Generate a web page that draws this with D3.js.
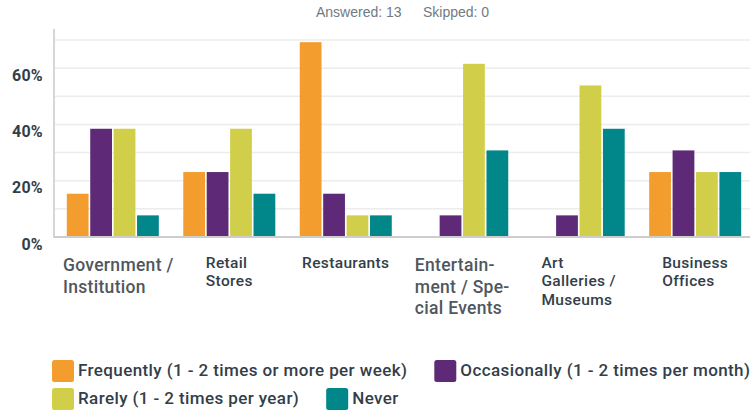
<!DOCTYPE html>
<html><head><meta charset="utf-8">
<script src="https://cdn.jsdelivr.net/npm/d3@7"></script>
<style>
html,body{margin:0;padding:0;background:#fff;}
svg{display:block;}
</style></head>
<body>
<svg id="chart" width="750" height="412"></svg>
<script>
// ---- data ----
const categories = ["Government / Institution","Retail Stores","Restaurants","Entertainment / Special Events","Art Galleries / Museums","Business Offices"];
const categoryLines = [["Government /","Institution"],["Retail","Stores"],["Restaurants"],["Entertain-","ment / Spe-","cial Events"],["Art","Galleries /","Museums"],["Business","Offices"]];
const seriesNames = ["Frequently (1 - 2 times or more per week)","Occasionally (1 - 2 times per month)","Rarely (1 - 2 times per year)","Never"];
const frequently   = [15.38, 23.08, 69.23, 0,     0,     23.08];
const occasionally = [38.46, 23.08, 15.38, 7.69,  7.69,  30.77];
const rarely       = [38.46, 38.46, 7.69,  61.54, 53.85, 23.08];
const never        = [7.69,  15.38, 7.69,  30.77, 38.46, 23.08];
const yTicks = [0, 20, 40, 60];
const gridTicks = [10, 20, 30, 40, 50, 60, 70];
const answered = 13, skipped = 0;

// ---- style ----
const colors = ["#f29d2e","#5e2a78","#d1cf4a","#01868a"];
const darkText = "#333e48";
const altLabels = new Set(["Government / Institution","Entertainment / Special Events"]);

const series = [frequently, occasionally, rarely, never];
const svg = d3.select("#chart");

const y = d3.scaleLinear().domain([0, 70]).range([237, 40]);
const x0 = d3.scaleBand().domain(categories).range([54, 754]).paddingInner(0.21).paddingOuter(0.11);
const x1 = d3.scaleBand().domain(d3.range(series.length)).range([0, x0.bandwidth()]).paddingInner(0.07);

// header
const hdr = svg.append("g").attr("font-family","'Liberation Sans', Arial, sans-serif").attr("font-size",14).attr("fill","#6f7b83");
hdr.append("text").attr("x",316).attr("y",17).text("Answered: " + answered);
hdr.append("text").attr("x",423).attr("y",17).text("Skipped: " + skipped);

// gridlines
svg.append("g").selectAll("line").data(gridTicks).join("line")
  .attr("x1",54).attr("x2",750).attr("y1",d=>y(d)).attr("y2",d=>y(d))
  .attr("stroke","#ececec").attr("stroke-width",1.5);

// y axis
const yAxis = svg.append("g").attr("transform","translate(54,0)")
  .call(d3.axisLeft(y).tickValues(yTicks).tickFormat(d=>d+"%").tickSize(0).tickPadding(11));
yAxis.select(".domain").remove();
yAxis.selectAll("text").attr("dy","0.75em").attr("font-family","Roboto, sans-serif")
  .attr("font-weight",700).attr("font-size",16).attr("fill",darkText).attr("letter-spacing",0.3);
svg.append("line").attr("x1",54).attr("x2",54).attr("y1",29).attr("y2",238)
  .attr("stroke","#d6d6d6").attr("stroke-width",2);

// bars
const groups = svg.append("g").selectAll("g").data(categories).join("g")
  .attr("transform",d=>`translate(${x0(d)},0)`);
groups.selectAll("rect").data((d,i)=>series.map((s,k)=>({k, v:s[i]}))).join("rect")
  .attr("x",d=>x1(d.k)).attr("width",x1.bandwidth())
  .attr("y",d=>y(d.v)).attr("height",d=>y(0)-y(d.v))
  .attr("fill",d=>colors[d.k]);

// baseline
svg.append("line").attr("x1",54).attr("x2",750).attr("y1",y(0)).attr("y2",y(0))
  .attr("stroke","#cdcdcd").attr("stroke-width",2);

// x labels
categories.forEach((c,i)=>{
  const alt = altLabels.has(c);
  const t = svg.append("text")
    .attr("font-family", "Roboto, sans-serif")
    .attr("font-weight", 500)
    .attr("font-size", alt ? 17.5 : 15.5)
    .attr("letter-spacing", alt ? 0.3 : 0.35)
    .attr("fill", alt ? "#50575e" : darkText);
  const lh = alt ? 21.5 : 18.5;
  const base = alt ? 271 : 267.5;
  categoryLines[i].forEach((ln,j)=>{
    t.append("tspan").attr("y", base + j*lh).text(ln);
  });
  let w = 0;
  t.selectAll("tspan").each(function(){ w = Math.max(w, this.getComputedTextLength()); });
  const cx = x0(c) + x0.bandwidth()/2;
  const left = Math.max(63, cx - w/2);
  t.selectAll("tspan").attr("x", left);
});

// legend
const legend = svg.append("g").attr("font-family","Roboto, sans-serif").attr("font-weight",500)
  .attr("font-size",17).attr("fill",darkText).attr("letter-spacing",0.4);
const rows = [[0,1],[2,3]];
rows.forEach((row,r)=>{
  let lx = 52;
  const sy = 360 + r*28;
  row.forEach(k=>{
    legend.append("rect").attr("x",lx).attr("y",sy).attr("width",22).attr("height",22).attr("rx",2.5)
      .attr("fill",colors[k]);
    const tx = legend.append("text").attr("x",lx+26).attr("y",sy+15.5).text(seriesNames[k]);
    lx = lx + 26 + tx.node().getComputedTextLength() + 27;
  });
});
</script>
</body></html>
